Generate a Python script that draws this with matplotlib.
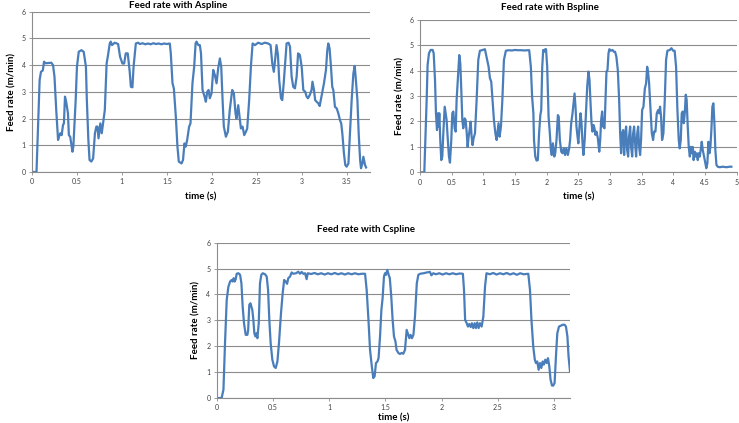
import matplotlib.pyplot as plt
from matplotlib.ticker import FormatStrFormatter

plt.rcParams['font.family'] = ['Lato', 'DejaVu Sans']

# ---- data (time in s, feed rate in m/min) ----
a_time = [0, 0.05, 0.085, 0.10, 0.12, 0.134, 0.15, 0.19, 0.215, 0.234, 0.25, 0.27, 0.29, 0.30, 0.315, 0.33,
          0.345, 0.355, 0.367, 0.38, 0.40, 0.41, 0.425, 0.45, 0.46, 0.486, 0.50, 0.52, 0.55, 0.575, 0.60, 0.61,
          0.627, 0.64, 0.66, 0.68, 0.70, 0.716, 0.728, 0.74, 0.76, 0.776, 0.79, 0.81, 0.83, 0.846, 0.865, 0.876,
          0.89, 0.92, 0.958, 0.98, 1.006, 1.025, 1.043, 1.065, 1.087, 1.10, 1.117, 1.13, 1.155, 1.18, 1.20, 1.23,
          1.26, 1.29, 1.32, 1.35, 1.38, 1.41, 1.44, 1.47, 1.50, 1.533, 1.544, 1.563, 1.578, 1.60, 1.618, 1.633,
          1.663, 1.68, 1.696, 1.71, 1.726, 1.748, 1.763, 1.785, 1.804, 1.82, 1.83, 1.85, 1.867, 1.88, 1.897,
          1.92, 1.934, 1.949, 1.964, 1.978, 1.997, 2.016, 2.034, 2.053, 2.071, 2.09, 2.105, 2.12, 2.134, 2.157,
          2.179, 2.20, 2.227, 2.246, 2.264, 2.275, 2.294, 2.313, 2.324, 2.342, 2.361, 2.38, 2.394, 2.416, 2.435,
          2.454, 2.48, 2.517, 2.554, 2.59, 2.628, 2.654, 2.673, 2.69, 2.706, 2.72, 2.736, 2.75, 2.77, 2.784,
          2.80, 2.82, 2.832, 2.854, 2.87, 2.888, 2.906, 2.925, 2.944, 2.96, 2.98, 3.0, 3.018, 3.04, 3.055, 3.07,
          3.09, 3.11, 3.12, 3.137, 3.15, 3.166, 3.185, 3.20, 3.22, 3.248, 3.27, 3.285, 3.296, 3.31, 3.326, 3.34,
          3.352, 3.37, 3.39, 3.408, 3.426, 3.44, 3.452, 3.47, 3.485, 3.50, 3.52, 3.537, 3.556, 3.575, 3.59, 3.60,
          3.62, 3.634, 3.65, 3.66, 3.675, 3.686, 3.705, 3.716]
a_rate = [0, 0, 3.45, 3.75, 3.8, 4.13, 4.07, 4.08, 4.09, 4.0, 3.57, 2.3, 1.2, 1.32, 1.45, 1.38,
          1.76, 1.82, 2.82, 2.63, 2.2, 1.38, 1.32, 0.76, 0.95, 2.7, 3.94, 4.5, 4.56, 4.5, 3.94, 2.7,
          1.2, 0.45, 0.39, 0.51, 1.45, 1.7, 1.7, 1.26, 1.82, 1.45, 1.82, 2.32, 4.06, 4.38, 4.81, 4.88,
          4.75, 4.84, 4.79, 4.31, 4.06, 4.06, 4.44, 4.44, 3.75, 3.19, 3.17, 3.94, 4.81, 4.84, 4.79, 4.82,
          4.78, 4.81, 4.78, 4.82, 4.79, 4.81, 4.78, 4.81, 4.79, 4.81, 4.44, 3.32, 3.13, 2.07, 0.95, 0.39,
          0.32, 0.45, 1.07, 0.95, 1.2, 1.7, 1.82, 3.32, 3.94, 4.81, 4.88, 4.75, 4.75, 4.44, 3.07,
          2.82, 2.63, 3.0, 3.07, 2.76, 2.94, 3.82, 3.63, 3.32, 3.88, 4.25, 3.94, 2.7, 1.7, 1.32,
          1.51, 2.32, 3.07, 2.94, 2.19, 2.0, 2.5, 1.94, 1.63, 1.7, 1.38, 1.51, 1.63, 2.7, 3.94,
          4.81, 4.75, 4.84, 4.79, 4.84, 4.81, 4.75, 4.06, 3.75, 4.25, 4.75, 4.38, 3.44, 2.76, 2.69,
          3.32, 4.25, 4.81, 4.84, 4.69, 3.57, 3.19, 3.13, 3.57, 4.44, 4.38, 3.94, 3.07, 3.0, 2.82, 2.76,
          2.88, 3.07, 3.38, 3.07, 2.69, 2.63, 2.57, 2.47, 2.82, 3.32, 3.82, 4.56, 4.81, 4.63, 3.94, 3.19,
          3.07, 2.44, 2.38, 2.19, 1.94, 1.82, 1.45, 0.70, 0.26, 0.2, 0.32, 1.45, 2.69, 3.69, 3.97, 3.57,
          2.69, 1.45, 0.45, 0.14, 0.32, 0.57, 0.26, 0.17]

b_time = [0, 0.068, 0.105, 0.12, 0.142, 0.168, 0.2, 0.216, 0.237, 0.252, 0.268, 0.284, 0.294, 0.305, 0.32,
          0.336, 0.352, 0.368, 0.39, 0.405, 0.42, 0.436, 0.457, 0.473, 0.494, 0.51, 0.526, 0.547, 0.563, 0.578,
          0.6, 0.62, 0.636, 0.652, 0.668, 0.683, 0.705, 0.72, 0.736, 0.752, 0.768, 0.783, 0.8, 0.815, 0.83,
          0.846, 0.868, 0.894, 0.92, 0.946, 0.99, 1.025, 1.05, 1.083, 1.104, 1.125, 1.146, 1.167, 1.19, 1.21,
          1.225, 1.24, 1.257, 1.278, 1.3, 1.325, 1.356, 1.40, 1.45, 1.50, 1.55, 1.60, 1.65, 1.70, 1.724, 1.75,
          1.77, 1.79, 1.80, 1.82, 1.84, 1.86, 1.88, 1.90, 1.914, 1.93, 1.945, 1.96, 1.977, 1.99, 2.008, 2.03,
          2.05, 2.066, 2.08, 2.098, 2.12, 2.135, 2.155, 2.177, 2.19, 2.208, 2.23, 2.25, 2.27, 2.29, 2.31, 2.334,
          2.355, 2.37, 2.387, 2.408, 2.424, 2.44, 2.455, 2.47, 2.487, 2.5, 2.518, 2.534, 2.55, 2.566, 2.58, 2.6,
          2.618, 2.64, 2.66, 2.676, 2.69, 2.708, 2.723, 2.74, 2.755, 2.77, 2.787, 2.808, 2.83, 2.845, 2.86,
          2.876, 2.89, 2.913, 2.93, 2.944, 2.96, 2.976, 2.99, 3.013, 3.04, 3.06, 3.08, 3.1, 3.123, 3.144, 3.16,
          3.175, 3.19, 3.207, 3.223, 3.24, 3.254, 3.27, 3.286, 3.3, 3.318, 3.333, 3.35, 3.365, 3.38, 3.4, 3.412,
          3.43, 3.444, 3.46, 3.475, 3.49, 3.507, 3.528, 3.55, 3.57, 3.586, 3.6, 3.617, 3.64, 3.66, 3.68, 3.696,
          3.717, 3.738, 3.76, 3.775, 3.79, 3.806, 3.822, 3.843, 3.864, 3.885, 3.906, 3.943, 3.97, 3.996, 4.02,
          4.043, 4.064, 4.085, 4.1, 4.117, 4.132, 4.148, 4.164, 4.18, 4.196, 4.21, 4.227, 4.243, 4.26, 4.275,
          4.29, 4.306, 4.32, 4.337, 4.353, 4.37, 4.385, 4.4, 4.416, 4.432, 4.448, 4.464, 4.485, 4.505, 4.52,
          4.537, 4.553, 4.57, 4.585, 4.6, 4.616, 4.632, 4.648, 4.663, 4.68, 4.7, 4.73, 4.78, 4.837, 4.89, 4.916]
b_rate = [0, 0, 2.84, 4.22, 4.68, 4.81, 4.81, 4.68, 3.63, 2.32, 1.66, 2.32, 1.8, 2.32, 1.27,
          0.48, 0.62, 1.53, 2.58, 2.32, 2.06, 1.4, 0.62, 0.38, 1.27, 2.32, 2.39, 1.73, 1.6, 2.84,
          3.76, 4.61, 4.29, 3.24, 2.06, 1.73, 2.12, 2.06, 1.6, 1.0, 1.4, 1.66, 1.99, 1.4, 1.07,
          1.34, 1.53, 2.84, 4.42, 4.78, 4.81, 4.84, 4.55, 4.15, 3.7, 3.56, 2.84, 2.06, 1.53, 1.27,
          1.6, 1.93, 1.4, 1.8, 2.84, 4.42, 4.78, 4.80, 4.79, 4.81, 4.80, 4.80, 4.79, 4.80, 4.80, 4.15,
          2.97, 2.32, 1.27, 0.62, 0.46, 0.48, 1.53, 2.25, 2.45, 4.15, 4.81, 4.74, 4.84, 4.84, 4.15, 2.19,
          1.53, 0.88, 0.68, 1.14, 0.62, 0.75, 1.27, 2.25, 2.19, 1.27, 0.81, 0.75, 0.94, 0.68, 0.94, 0.68,
          0.94, 1.27, 1.93, 2.32, 2.71, 3.1, 2.58, 1.8, 1.4, 1.14, 1.8, 2.32, 1.93, 1.14, 0.68, 1.27,
          2.19, 3.37, 3.96, 3.63, 2.84, 1.93, 1.6, 1.86, 1.73, 1.47, 1.6, 1.34, 0.81, 1.27, 2.06,
          2.39, 1.8, 1.73, 2.97, 3.96, 4.02, 4.68, 4.84, 4.78, 4.81, 4.74, 4.74, 4.55, 4.02, 2.84, 1.53,
          0.75, 1.53, 1.66, 0.68, 1.53, 1.8, 0.88, 0.62, 1.4, 1.8, 1.0, 0.62, 1.53, 1.8, 1.0, 0.62,
          1.53, 1.8, 1.0, 0.68, 1.27, 2.45, 2.58, 3.3, 3.5, 4.15, 3.96, 3.5, 2.45, 1.53, 1.27, 1.6,
          1.6, 2.32, 2.45, 2.32, 2.58, 2.19, 1.27, 1.53, 2.84, 4.42, 4.78, 4.81, 4.88, 4.78, 4.78,
          4.15, 2.45, 1.27, 0.94, 1.27, 2.32, 2.39, 1.93, 2.32, 3.05, 2.84, 1.8, 1.0, 0.62, 1.0,
          0.75, 1.0, 0.48, 0.81, 0.62, 0.75, 0.48, 0.75, 0.62, 0.88, 1.2, 0.88, 0.62, 0.35, 0.16,
          0.35, 1.2, 0.75, 1.0, 1.66, 2.58, 2.71, 1.93, 0.88, 0.29, 0.22, 0.2, 0.22, 0.2, 0.22, 0.22]

c_time = [0, 0.044, 0.06, 0.074, 0.089, 0.104, 0.119, 0.133, 0.142, 0.151, 0.16, 0.169, 0.178, 0.193, 0.208,
          0.22, 0.231, 0.243, 0.258, 0.273, 0.28, 0.29, 0.30, 0.308, 0.317, 0.326, 0.335, 0.344, 0.353, 0.362,
          0.374, 0.385, 0.397, 0.41, 0.43, 0.445, 0.457, 0.468, 0.48, 0.495, 0.51, 0.525, 0.54, 0.554, 0.572,
          0.587, 0.60, 0.614, 0.626, 0.637, 0.652, 0.667, 0.68, 0.706, 0.726, 0.741, 0.756, 0.77, 0.786, 0.80,
          0.81, 0.84, 0.87, 0.90, 0.93, 0.96, 0.99, 1.02, 1.05, 1.08, 1.11, 1.14, 1.17, 1.20, 1.23, 1.26, 1.29,
          1.32, 1.334, 1.35, 1.364, 1.38, 1.393, 1.405, 1.417, 1.43, 1.44, 1.453, 1.465, 1.476, 1.488, 1.497,
          1.506, 1.518, 1.53, 1.54, 1.553, 1.565, 1.577, 1.59, 1.60, 1.616, 1.63, 1.645, 1.66, 1.675, 1.69, 1.70,
          1.714, 1.725, 1.737, 1.75, 1.764, 1.78, 1.794, 1.81, 1.84, 1.868, 1.897, 1.91, 1.927, 1.95, 1.98,
          2.01, 2.04, 2.07, 2.10, 2.13, 2.16, 2.19, 2.20, 2.21, 2.224, 2.235, 2.247, 2.26, 2.27, 2.283, 2.295,
          2.306, 2.318, 2.33, 2.342, 2.357, 2.372, 2.387, 2.40, 2.43, 2.46, 2.49, 2.52, 2.55, 2.58, 2.61, 2.64,
          2.67, 2.70, 2.73, 2.772, 2.787, 2.80, 2.816, 2.83, 2.84, 2.852, 2.864, 2.876, 2.888, 2.90, 2.91,
          2.923, 2.935, 2.947, 2.959, 2.97, 2.983, 2.994, 3.006, 3.018, 3.03, 3.045, 3.06, 3.077, 3.095,
          3.107, 3.12, 3.13, 3.143]
c_rate = [0, 0, 0.32, 2.12, 3.79, 4.3, 4.5, 4.56, 4.5, 4.63, 4.5, 4.59, 4.8, 4.82, 4.76,
          4.43, 3.53, 2.89, 2.44, 2.44, 2.63, 3.6, 3.66, 3.53, 3.4, 3.02, 2.5, 2.38, 2.5, 2.31,
          2.89, 4.43, 4.76, 4.82, 4.78, 4.69, 4.18, 3.02, 2.12, 1.48, 1.22, 1.16, 1.41, 2.12, 3.28,
          4.05, 4.56, 4.5, 4.41, 4.63, 4.69, 4.85, 4.8, 4.82, 4.88, 4.8, 4.87, 4.8, 4.82, 4.59,
          4.82, 4.79, 4.83, 4.78, 4.82, 4.77, 4.82, 4.78, 4.83, 4.78, 4.82, 4.77, 4.82, 4.78, 4.82, 4.78, 4.80,
          4.80, 4.18, 3.02, 1.86, 1.22, 0.77, 0.84, 1.35, 1.41, 1.54, 2.38, 3.4, 3.86, 4.69, 4.82,
          4.76, 4.95, 4.76, 4.63, 3.92, 3.02, 2.38, 2.19, 1.86, 1.74, 1.7, 1.74, 1.71, 1.86, 2.63, 2.5,
          2.31, 2.44, 2.31, 2.44, 3.15, 4.43, 4.76, 4.8, 4.82, 4.85, 4.87, 4.74, 4.82, 4.78, 4.82,
          4.77, 4.82, 4.78, 4.82, 4.78, 4.81, 4.80, 4.18, 3.02, 2.89, 2.76, 2.86, 2.74, 2.89, 2.7, 2.89,
          2.7, 2.92, 2.7, 2.89, 2.76, 3.15, 4.3, 4.82, 4.78, 4.83, 4.77, 4.82, 4.78, 4.83, 4.77, 4.82,
          4.76, 4.82, 4.78, 4.80, 4.18, 3.02, 1.99, 1.48, 1.35, 1.41, 1.09, 1.35, 1.16, 1.41, 1.29,
          1.48, 1.35, 1.54, 1.22, 0.71, 0.48, 0.48, 0.58, 1.61, 2.5, 2.76, 2.79, 2.83, 2.83,
          2.76, 2.38, 1.61, 1.03]

titles = ['Feed rate with Aspline', 'Feed rate with Bspline', 'Feed rate with Cspline']
y_ticks = [0, 1, 2, 3, 4, 5, 6]
a_xticks = [0, 0.5, 1, 1.5, 2, 2.5, 3, 3.5]
b_xticks = [0, 0.5, 1, 1.5, 2, 2.5, 3, 3.5, 4, 4.5, 5]
c_xticks = [0, 0.5, 1, 1.5, 2, 2.5, 3]

W, H = 739, 423
LINE = '#4a7ebb'
GRID = '#8c8c8c'

fig = plt.figure(figsize=(W / 100, H / 100), dpi=100)


def panel(box, t, v, xticks, xmax, xpad=5):
    # box in pixels: left, top, right, bottom
    l, tp, r, b = box
    ax = fig.add_axes([l / W, 1 - b / H, (r - l) / W, (b - tp) / H])
    ax.plot(t, v, color=LINE, lw=1.6, solid_joinstyle='round')
    ax.set_xlim(0, xmax)
    ax.set_ylim(0, 6)
    ax.set_yticks(y_ticks)
    ax.set_xticks(xticks)
    ax.xaxis.set_major_formatter(FormatStrFormatter('%g'))
    ax.grid(axis='y', color=GRID, lw=0.8)
    ax.set_axisbelow(True)
    for s in ['top', 'right']:
        ax.spines[s].set_visible(False)
    for s in ['left', 'bottom']:
        ax.spines[s].set_color(GRID)
        ax.spines[s].set_linewidth(0.8)
    ax.tick_params(labelsize=5, colors='#404040', length=2.5, width=0.6, pad=2)
    ax.tick_params(axis='both', color=GRID)
    ax.set_xlabel('time (s)', fontsize=7, fontweight='bold', labelpad=xpad)
    ax.set_ylabel('Feed rate (m/min)', fontsize=7, fontweight='bold', labelpad=4)
    return ax


panel((32, 11.7, 370, 172), a_time, a_rate, a_xticks, 3.76)
panel((420, 19.7, 736.7, 172.3), b_time, b_rate, b_xticks, 5)
panel((216.7, 242.7, 570, 398), c_time, c_rate, c_xticks, 3.143, xpad=1.5)

fig.text(178 / W, 1 - 5 / H, titles[0], fontsize=7, fontweight='bold', ha='center', va='center')
fig.text(550 / W, 1 - 7 / H, titles[1], fontsize=7, fontweight='bold', ha='center', va='center')
fig.text(366 / W, 1 - 229 / H, titles[2], fontsize=7, fontweight='bold', ha='center', va='center')

fig.savefig('out.png', dpi=100)
